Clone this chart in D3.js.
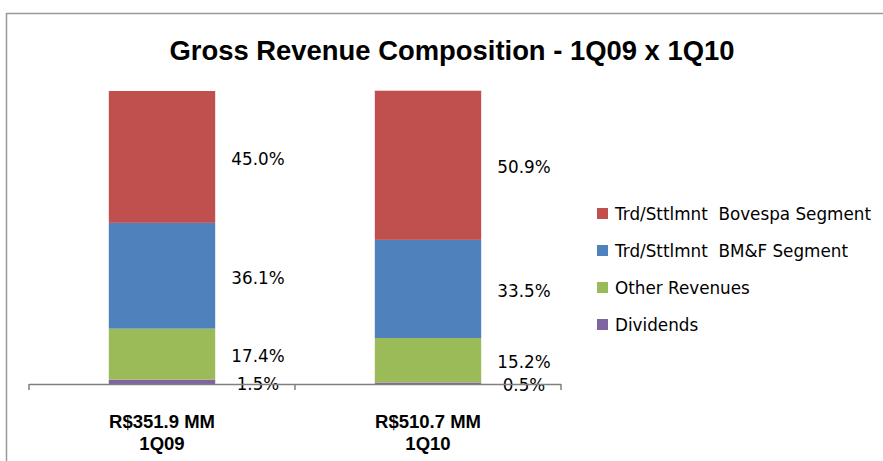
<!DOCTYPE html>
<html>
<head>
<meta charset="utf-8">
<script src="https://cdn.jsdelivr.net/npm/d3@7"></script>
<style>
  body { margin: 0; background: #fff; }
  svg { display: block; }
</style>
</head>
<body>
<div id="container"></div>
<script>
// data
var categories = ["1Q09", "1Q10"];
var totals = ["R$351.9 MM", "R$510.7 MM"];
var seriesNames = ["Dividends", "Other Revenues", "Trd/Sttlmnt  BM&F Segment", "Trd/Sttlmnt  Bovespa Segment"];
var dividends = [1.5, 0.5];
var otherRevenues = [17.4, 15.2];
var bmfSegment = [36.1, 33.5];
var bovespaSegment = [45.0, 50.9];

var W = 883, H = 461;
var margin = {top: 91, left: 29, bottom: 77};
var plotW = 532, plotH = H - margin.top - margin.bottom;

var colors = {
  "Dividends": "#8064A2",
  "Other Revenues": "#9BBB59",
  "Trd/Sttlmnt  BM&F Segment": "#4F81BD",
  "Trd/Sttlmnt  Bovespa Segment": "#C0504D"
};

// build rows for d3.stack
var rows = categories.map(function(c, i) {
  return {
    cat: c,
    "Dividends": dividends[i],
    "Other Revenues": otherRevenues[i],
    "Trd/Sttlmnt  BM&F Segment": bmfSegment[i],
    "Trd/Sttlmnt  Bovespa Segment": bovespaSegment[i]
  };
});
var stacked = d3.stack().keys(seriesNames)(rows);

var svg = d3.select("#container").append("svg")
    .attr("width", W)
    .attr("height", H);

// outer chart border (only top/left visible)
svg.append("rect")
    .attr("x", 6.5).attr("y", 13.5)
    .attr("width", W + 10).attr("height", H + 10)
    .attr("fill", "none")
    .attr("stroke", "#999")
    .attr("stroke-width", 1.5);

svg.append("text")
    .attr("x", 452)
    .attr("y", 60)
    .attr("text-anchor", "middle")
    .attr("textLength", 565)
    .attr("lengthAdjust", "spacingAndGlyphs")
    .style("font-family", "'Liberation Sans', Arial, sans-serif")
    .style("font-weight", "bold")
    .style("font-size", "28px")
    .text("Gross Revenue Composition - 1Q09 x 1Q10");

var g = svg.append("g")
    .attr("transform", "translate(" + margin.left + "," + margin.top + ")");

var x = d3.scaleBand()
    .domain(categories)
    .range([0, plotW])
    .paddingInner(0.6)
    .paddingOuter(0.3);

var y = d3.scaleLinear()
    .domain([0, 100])
    .range([plotH, 0]);

var layers = g.selectAll("g.layer")
    .data(stacked)
    .enter().append("g")
    .attr("class", "layer")
    .attr("fill", function(d) { return colors[d.key]; });

layers.selectAll("rect")
    .data(function(d) { return d; })
    .enter().append("rect")
    .attr("x", function(d) { return x(d.data.cat); })
    .attr("y", function(d) { return y(d[1]); })
    .attr("height", function(d) { return y(d[0]) - y(d[1]); })
    .attr("width", x.bandwidth());

// value labels to the right of each bar
layers.selectAll("text")
    .data(function(d) { return d; })
    .enter().append("text")
    .attr("x", function(d) { return x(d.data.cat) + x.bandwidth() / 2 + 96; })
    .attr("y", function(d) { return (y(d[0]) + y(d[1])) / 2 + 2; })
    .attr("dy", "0.36em")
    .attr("text-anchor", "middle")
    .attr("fill", "#000")
    .style("font-family", "'DejaVu Sans', sans-serif")
    .style("font-size", "16.8px")
    .text(function(d) { return (d[1] - d[0]).toFixed(1) + "%"; });

// x axis with ticks between categories
var axis = g.append("g")
    .attr("transform", "translate(0," + plotH + ")");
axis.append("line")
    .attr("x1", 0).attr("x2", plotW)
    .attr("y1", 0.5).attr("y2", 0.5)
    .attr("stroke", "#808080").attr("stroke-width", 1.5);
axis.selectAll("line.tick")
    .data([0, x.step(), plotW])
    .enter().append("line")
    .attr("class", "tick")
    .attr("x1", function(d) { return d; }).attr("x2", function(d) { return d; })
    .attr("y1", 0).attr("y2", 6)
    .attr("stroke", "#808080").attr("stroke-width", 1.5);

var lbl = axis.selectAll("text.cat")
    .data(categories)
    .enter().append("text")
    .attr("class", "cat")
    .attr("x", function(d) { return x(d) + x.bandwidth() / 2; })
    .attr("y", 44)
    .attr("text-anchor", "middle")
    .style("font-family", "'Liberation Sans', Arial, sans-serif")
    .style("font-weight", "bold")
    .style("font-size", "18.5px");
lbl.append("tspan")
    .attr("x", function(d) { return x(d) + x.bandwidth() / 2; })
    .text(function(d, i) { return totals[i]; });
lbl.append("tspan")
    .attr("x", function(d) { return x(d) + x.bandwidth() / 2; })
    .attr("dy", 22)
    .text(function(d) { return d; });

// legend, top series first
var legend = svg.append("g")
    .attr("transform", "translate(597,208)");
var items = legend.selectAll("g")
    .data(seriesNames.slice().reverse())
    .enter().append("g")
    .attr("transform", function(d, i) { return "translate(0," + (i * 37) + ")"; });
items.append("rect")
    .attr("width", 11).attr("height", 11)
    .attr("fill", function(d) { return colors[d]; });
items.append("text")
    .attr("x", 18)
    .attr("y", 12)
    .style("font-family", "'DejaVu Sans', sans-serif")
    .style("font-size", "16.8px")
    .attr("xml:space", "preserve")
    .text(function(d) { return d; });
</script>
</body>
</html>
